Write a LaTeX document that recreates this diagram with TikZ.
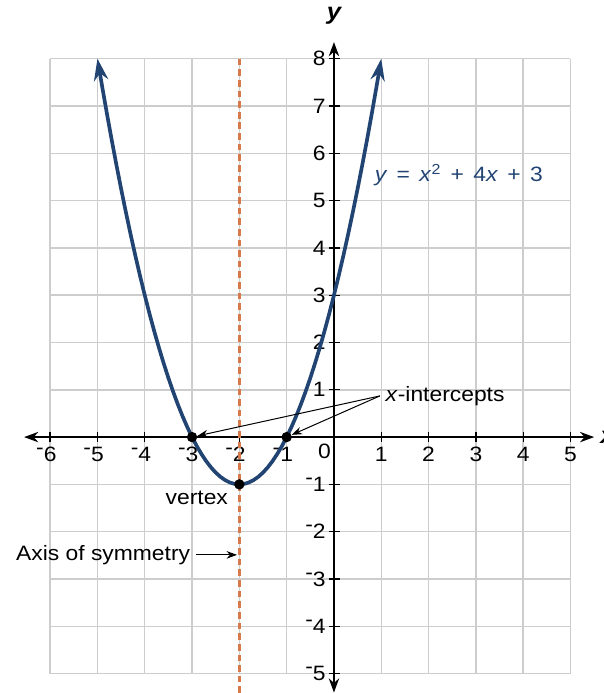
\documentclass[tikz,border=0pt]{standalone}
\usepackage{fontspec}
\setmainfont{Liberation Sans}[FakeStretch=1.1]
\usetikzlibrary{arrows.meta}
\definecolor{parab}{RGB}{33,68,115}
\definecolor{symaxis}{RGB}{214,122,76}
\definecolor{gridgray}{RGB}{205,205,205}
\newcommand{\tickneg}[1]{\llap{\raisebox{.65ex}{-}}#1}
\begin{document}
\begin{tikzpicture}[>=Stealth,font=\fontsize{12.5}{14}\selectfont,
  dot/.style={circle,fill=black,inner sep=0pt,minimum size=2.2mm},
  note/.style={->,line width=0.6pt,>={Stealth[length=2.2mm,width=1.6mm]}},
  axis/.style={line width=0.8pt,<->,>={Stealth[length=3mm,width=2.2mm]}},
  ylab/.style={anchor=east,inner sep=0pt},
  axlab/.style={font=\bfseries\itshape\fontsize{14}{16}\selectfont}]
\useasboundingbox (-7.06,-5.41) rectangle (5.69,9.24);
\draw[gridgray,line width=0.9pt] (-6,-5) grid (5,8);
\coordinate (xl) at (-6.55,0);
\coordinate (xr) at (5.5,0);
\coordinate (yb) at (0,-5.4);
\coordinate (yt) at (0,8.35);
\draw[axis] (xl) -- (xr);
\draw[axis] (yb) -- (yt);
\node[axlab] (ylabel) at (0,8.9) {y};
\node[axlab] (xlabel) at (5.78,0) {x};
\foreach \x in {-6,...,-1,1,2,...,5} \draw[line width=0.8pt] (\x,-0.1) -- (\x,0.1);
\foreach \y in {-5,...,-1,1,2,...,8} \draw[line width=0.8pt] (-0.1,\y) -- (0.13,\y);
\foreach \x in {1,...,6} \node (xn\x) at (-\x,-0.37) {\tickneg{\x}};
\foreach \x in {1,...,5} \node (xp\x) at (\x,-0.37) {\x};
\foreach \y in {1,...,5} \node[ylab] (yn\y) at (-0.17,-\y) {\tickneg{\y}};
\foreach \y in {1,...,8} \node[ylab] (yp\y) at (-0.17,\y) {\y};
\node (orig) at (-0.2,-0.3) {0};
\draw[parab,line width=2.2pt,<->,>={Stealth[length=4.6mm,width=3mm]}]
  plot[domain=-5:1,samples=61] (\x,{\x*\x+4*\x+3});
\draw[symaxis,line width=2pt,dash pattern=on 4pt off 2.4pt] (-2,8) -- (-2,-5.45);
\node[dot] (xa) at (-3,0) {};
\node[dot] (xb) at (-1,0) {};
\node[dot] (vx) at (-2,-1) {};
\node[text=parab] (eq) at (2.64,5.54) {\spaceskip=.45em\relax\textit{y} = \textit{x}\textsuperscript{2} + 4\textit{x} + 3};
\node (xint) at (2.35,0.87) {\textit{x}-intercepts};
\draw[note] (xint.west) -- (xa);
\draw[note] (xint.west) -- (xb);
\node (vxl) at (-2.9,-1.29) {vertex};
\node (aos) at (-4.88,-2.49) {Axis of symmetry};
\coordinate (aosend) at (-2.05,-2.49);
\draw[note] (aos) -- (aosend);
\end{tikzpicture}
\end{document}
